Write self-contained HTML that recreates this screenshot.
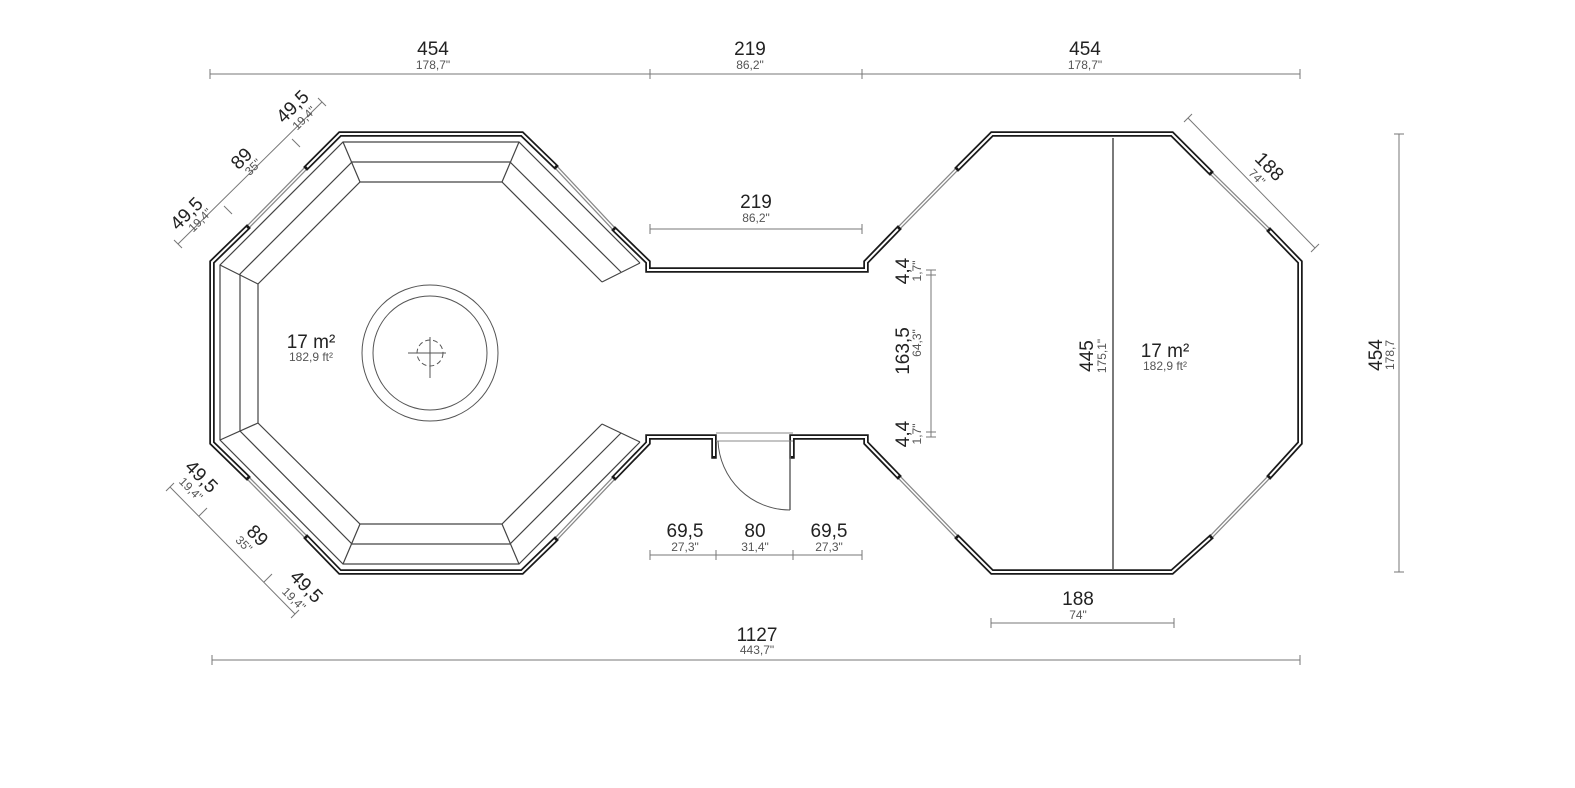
<!DOCTYPE html>
<html><head><meta charset="utf-8"><style>
html,body{margin:0;padding:0;background:#fff}
svg{display:block}
text{font-family:"Liberation Sans",sans-serif;fill:#222}
.b{font-size:19px}
.s{font-size:12px;fill:#555}
.dim{stroke:#777;stroke-width:1;fill:none}
.wk{stroke:#1a1a1a;stroke-width:5.5;fill:none;stroke-linejoin:miter;stroke-linecap:square}
.ww{stroke:#fff;stroke-width:2;fill:none;stroke-linejoin:miter;stroke-linecap:butt}
.win{stroke:#888;stroke-width:4;fill:none}
.win2{stroke:#fff;stroke-width:1.5;fill:none}
.bn{stroke:#444;stroke-width:1.2;fill:none}
.thin{stroke:#555;stroke-width:1;fill:none}
</style></head><body>
<svg width="1575" height="788" viewBox="0 0 1575 788" xmlns="http://www.w3.org/2000/svg">
<!-- windows -->
<g>
<path class="win" d="M247,228 L307,167 M555,166 L615,230 M247,477 L307,538 M555,540 L615,477 M898,229 L958,168 M1210,172 L1270,231 M898,476 L958,538 M1210,538 L1270,476"/>
<path class="win2" d="M247,228 L307,167 M555,166 L615,230 M247,477 L307,538 M555,540 L615,477 M898,229 L958,168 M1210,172 L1270,231 M898,476 L958,538 M1210,538 L1270,476"/>
</g>
<!-- walls -->
<g id="walls">
<path d="M247,228 L212,262 L212,443 L247,477 M307,538 L340,572 L522,572 L555,540 M615,477 L648,443 L648,437 L714,437 L714,456 M792,456 L792,437 L866,437 L866,443 L898,476 M958,538 L992,572 L1172,572 L1210,538 M1270,476 L1300,443 L1300,262 L1270,231 M1210,172 L1172,134 L992,134 L958,168 M898,229 L866,262 L866,270 L648,270 L648,262 L615,230 M555,166 L522,134 L340,134 L307,167" class="wk"/>
<path d="M247,228 L212,262 L212,443 L247,477 M307,538 L340,572 L522,572 L555,540 M615,477 L648,443 L648,437 L714,437 L714,456 M792,456 L792,437 L866,437 L866,443 L898,476 M958,538 L992,572 L1172,572 L1210,538 M1270,476 L1300,443 L1300,262 L1270,231 M1210,172 L1172,134 L992,134 L958,168 M898,229 L866,262 L866,270 L648,270 L648,262 L615,230 M555,166 L522,134 L340,134 L307,167" class="ww"/>
</g>
<!-- benches -->
<g class="bn">
<path d="M640,263 L519,142 L343,142 L220,265 L220,440 L343,564 L519,564 L640,442"/>
<path d="M621,272 L510,162 L352,162 L240,274 L240,431 L352,544 L510,544 L621,433"/>
<path d="M602,282 L502,182 L360,182 L258,284 L258,423 L360,524 L502,524 L602,424"/>
<path d="M519,142 L502,182 M343,142 L360,182 M220,265 L258,284 M220,440 L258,423 M343,564 L360,524 M519,564 L502,524 M640,263 L602,282 M640,442 L602,424"/>
</g>
<!-- circle -->
<circle cx="430" cy="353" r="68" class="thin"/>
<circle cx="430" cy="353" r="57" class="thin"/>
<circle cx="430" cy="353" r="13" class="thin" stroke-dasharray="5,3"/>
<path d="M408,353 L446,353 M430,337 L430,378" class="thin"/>
<!-- door -->
<path d="M716,433 L793,433 M716,441 L793,441" stroke="#888" stroke-width="1"/>
<path d="M790,441 L790,510" stroke="#666" stroke-width="1.5"/>
<path d="M718,441 A72,72 0 0 0 790,510" class="thin"/>
<!-- vertical corridor line right -->
<path d="M1113,138 L1113,569" stroke="#333" stroke-width="1.3"/>
<!-- dimension lines -->
<g class="dim">
<path d="M210,74 L1300,74 M210,69 L210,79 M650,69 L650,79 M862,69 L862,79 M1300,69 L1300,79"/>
<path d="M650,229 L862,229 M650,224 L650,234 M862,224 L862,234"/>
<path d="M650,555 L862,555 M650,550 L650,560 M716,550 L716,560 M793,550 L793,560 M862,550 L862,560"/>
<path d="M991,623 L1174,623 M991,618 L991,628 M1174,618 L1174,628"/>
<path d="M212,660 L1300,660 M212,655 L212,665 M1300,655 L1300,665"/>
<path d="M1399,134 L1399,572 M1394,134 L1404,134 M1394,572 L1404,572"/>
<path d="M931,270 L931,437 M926,270 L936,270 M926,275 L936,275 M926,432 L936,432 M926,437 L936,437"/>
<path d="M1188,118 L1315,248 M1184,122 L1192,114 M1311,252 L1319,244"/>
<path d="M178,244 L322,102 M174,240 L182,248 M224,206 L232,214 M292,139 L300,147 M318,98 L326,106"/>
<path d="M170,487 L295,614 M166,491 L174,483 M199,516 L207,508 M264,582 L272,574 M291,618 L299,610"/>
</g>
<!-- labels -->
<g text-anchor="middle">
<text class="b" x="433" y="55">454</text><text class="s" x="433" y="69">178,7"</text>
<text class="b" x="750" y="55">219</text><text class="s" x="750" y="69">86,2"</text>
<text class="b" x="1085" y="55">454</text><text class="s" x="1085" y="69">178,7"</text>
<text class="b" x="756" y="208">219</text><text class="s" x="756" y="222">86,2"</text>
<text class="b" x="685" y="537">69,5</text><text class="s" x="685" y="551">27,3"</text>
<text class="b" x="755" y="537">80</text><text class="s" x="755" y="551">31,4"</text>
<text class="b" x="829" y="537">69,5</text><text class="s" x="829" y="551">27,3"</text>
<text class="b" x="1078" y="605">188</text><text class="s" x="1078" y="619">74"</text>
<text class="b" x="757" y="641">1127</text><text class="s" x="757" y="654">443,7"</text>
<text class="b" x="311" y="348">17 m²</text><text class="s" x="311" y="361">182,9 ft²</text>
<text class="b" x="1165" y="357">17 m²</text><text class="s" x="1165" y="370">182,9 ft²</text>
<text class="b" transform="translate(1382,355) rotate(-90)">454</text><text class="s" transform="translate(1394,355) rotate(-90)">178,7</text>
<text class="b" transform="translate(1093,356) rotate(-90)">445</text><text class="s" transform="translate(1106,356) rotate(-90)">175,1"</text>
<text class="b" transform="translate(909,271) rotate(-90)">4,4</text><text class="s" transform="translate(921,271) rotate(-90)">1,7"</text>
<text class="b" transform="translate(909,351) rotate(-90)">163,5</text><text class="s" transform="translate(921,343) rotate(-90)">64,3"</text>
<text class="b" transform="translate(909,434) rotate(-90)">4,4</text><text class="s" transform="translate(921,434) rotate(-90)">1,7"</text>
<text class="b" transform="translate(1265,171) rotate(45)">188</text><text class="s" transform="translate(1254,180) rotate(45)">74"</text>
<text class="b" transform="translate(191,218) rotate(-45)">49,5</text><text class="s" transform="translate(203,223) rotate(-45)">19,4"</text>
<text class="b" transform="translate(246,163) rotate(-45)">89</text><text class="s" transform="translate(256,170) rotate(-45)">35"</text>
<text class="b" transform="translate(297,111) rotate(-45)">49,5</text><text class="s" transform="translate(307,121) rotate(-45)">19,4"</text>
<text class="b" transform="translate(197,481) rotate(45)">49,5</text><text class="s" transform="translate(188,492) rotate(45)">19,4"</text>
<text class="b" transform="translate(253,540) rotate(45)">89</text><text class="s" transform="translate(241,547) rotate(45)">35"</text>
<text class="b" transform="translate(302,591) rotate(45)">49,5</text><text class="s" transform="translate(291,602) rotate(45)">19,4"</text>
</g>
</svg>
</body></html>
